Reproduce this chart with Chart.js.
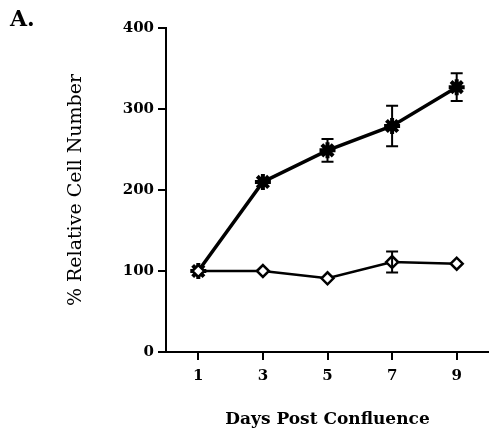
<!DOCTYPE html>
<html>
<head>
<meta charset="utf-8">
<script src="https://cdn.jsdelivr.net/npm/chart.js@4"></script>
<style>
  html, body { margin: 0; padding: 0; background: #fff; }
  #wrap { width: 489px; height: 442px; }
</style>
</head>
<body>
<div id="wrap"><canvas id="myChart"></canvas></div>
<script>
// values
const days = [1, 3, 5, 7, 9];
const yTicks = [0, 100, 200, 300, 400];
const treatedMean = [100, 210, 249, 279, 327];
const treatedErr = [0, 0, 14, 25, 17];
const controlMean = [100, 100, 91, 111, 109];
const controlErr = [0, 0, 0, 13, 0];

const serif = "'DejaVu Serif', 'Liberation Serif', serif";

// error bars drawn through the chart's own scales
const errorBars = {
    id: 'errorBars',
    afterDatasetsDraw(chart) {
        const ctx = chart.ctx;
        const x = chart.scales.x, y = chart.scales.y;
        const sets = [[controlMean, controlErr], [treatedMean, treatedErr]];
        ctx.save();
        ctx.strokeStyle = '#000';
        ctx.lineWidth = 2;
        sets.forEach(([mean, err]) => {
            days.forEach((d, i) => {
                if (!err[i]) return;
                const px = x.getPixelForValue(d);
                const top = y.getPixelForValue(mean[i] + err[i]);
                const bot = y.getPixelForValue(mean[i] - err[i]);
                ctx.beginPath();
                ctx.moveTo(px, top); ctx.lineTo(px, bot);
                ctx.moveTo(px - 6, top); ctx.lineTo(px + 6, top);
                ctx.moveTo(px - 6, bot); ctx.lineTo(px + 6, bot);
                ctx.stroke();
            });
        });
        ctx.restore();
    }
};

const panelLabel = {
    id: 'panelLabel',
    afterDraw(chart) {
        const ctx = chart.ctx;
        ctx.save();
        ctx.fillStyle = '#000';
        ctx.font = 'bold 22px ' + serif;
        ctx.textBaseline = 'alphabetic';
        ctx.fillText('A.', 10, 26);
        ctx.restore();
    }
};

const ctx = document.getElementById('myChart').getContext('2d');
const myChart = new Chart(ctx, {
    type: 'line',
    data: {
        datasets: [
            {
                label: 'Control',
                data: days.map((d, i) => ({ x: d, y: controlMean[i] })),
                borderColor: '#000',
                borderWidth: 2.5,
                pointStyle: 'rectRot',
                pointRadius: 6,
                pointBorderWidth: 2.5,
                pointBackgroundColor: '#fff',
                pointBorderColor: '#000'
            },
            {
                label: 'Treated',
                data: days.map((d, i) => ({ x: d, y: treatedMean[i] })),
                borderColor: '#000',
                borderWidth: 3.5,
                pointStyle: 'star',
                pointRadius: 8,
                pointBorderWidth: 4,
                pointBackgroundColor: '#000',
                pointBorderColor: '#000'
            }
        ]
    },
    options: {
        responsive: true,
        maintainAspectRatio: false,
        animation: false,
        layout: { autoPadding: false, padding: { top: 28, left: 0, right: 0, bottom: 0 } },
        plugins: { legend: { display: false }, tooltip: { enabled: false } },
        scales: {
            x: {
                type: 'linear',
                min: 0,
                max: 10,
                afterBuildTicks: s => { s.ticks = days.map(v => ({ value: v })); },
                afterFit: s => { s.height = 90; },
                grid: { drawOnChartArea: false, color: '#000', lineWidth: 2, tickLength: 8 },
                border: { color: '#000', width: 2 },
                ticks: { color: '#000', padding: 7, font: { family: serif, size: 15, weight: 'bold' } },
                title: {
                    display: true,
                    text: 'Days Post Confluence',
                    color: '#000',
                    font: { family: serif, size: 17, weight: 'bold' },
                    padding: { top: 0, bottom: 12 }
                }
            },
            y: {
                min: 0,
                max: 400,
                afterBuildTicks: s => { s.ticks = yTicks.map(v => ({ value: v })); },
                afterFit: s => { s.width = 166; },
                grid: { drawOnChartArea: false, color: '#000', lineWidth: 2, tickLength: 8 },
                border: { color: '#000', width: 2 },
                ticks: { color: '#000', padding: 4, font: { family: serif, size: 15, weight: 'bold' } },
                title: {
                    display: true,
                    text: '% Relative Cell Number',
                    color: '#000',
                    font: { family: serif, size: 19 },
                    padding: { top: 65, bottom: 0 }
                }
            }
        }
    },
    plugins: [errorBars, panelLabel]
});
</script>
</body>
</html>
